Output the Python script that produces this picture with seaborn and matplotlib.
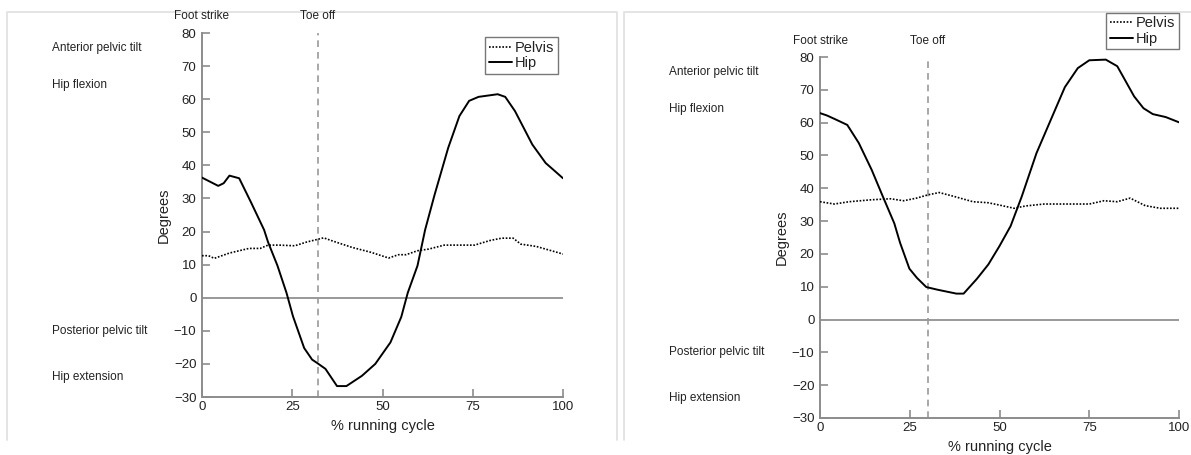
import numpy as np
import pandas as pd
import matplotlib
matplotlib.use("Agg")
import matplotlib.pyplot as plt
from matplotlib.lines import Line2D
from matplotlib.transforms import blended_transform_factory
import seaborn as sns

# ---------------- data ----------------
# Left panel
left_hip_x = [0, 4.5, 6, 7.6, 10.3, 13.5, 17.2, 18.3, 20.9, 23.4, 25.2, 28.3, 30.5, 32, 34.2,
              37.4, 40, 44.3, 48, 52.2, 55.2, 57, 59.7, 61.8, 64.4, 68.2, 71.3, 74, 76.6,
              81.9, 84, 86.7, 91.5, 95.2, 97.3, 100]
left_hip_y = [36.3, 33.8, 34.6, 36.9, 36.1, 29, 20.5, 16.8, 9.7, 1.5, -5.6, -15.2, -18.7, -19.8,
              -21.5, -26.7, -26.7, -23.6, -20, -13.5, -5.8, 1.5, 9.7, 20.5, 31, 45.3, 54.9,
              59.5, 60.7, 61.5, 60.7, 56.4, 46.3, 40.7, 38.7, 36.1]
left_pelvis_x = [0, 1.8, 3.4, 7.6, 13, 16.1, 18.3, 21.4, 25.7, 28.9, 33.7, 36.3, 41.6, 46.9,
                 51.7, 54.4, 56.5, 59.7, 62.8, 67.1, 71.3, 75.5, 79.8, 83, 86.2, 88.3, 92.6,
                 96.8, 100]
left_pelvis_y = [12.7, 12.7, 11.9, 13.5, 14.9, 14.9, 15.9, 15.9, 15.7, 16.8, 18.1, 17.1, 15.2,
                 13.7, 12, 13, 13, 14.2, 14.7, 15.9, 15.9, 15.9, 17.3, 18, 18, 16.2, 15.5,
                 14.2, 13.2]
left_toe_off = 32

# Right panel
right_hip_x = [0, 1.9, 4.5, 7.6, 10.8, 14.4, 17.5, 20.7, 22.3, 24.9, 27, 29.6, 32.7, 38, 40,
               43.7, 46.9, 50, 53.1, 56.2, 60.3, 64.5, 68.2, 71.8, 75, 79.6, 82.8, 84.9,
               87.5, 90.1, 92.7, 96.3, 100]
right_hip_y = [62.9, 62.2, 60.9, 59.3, 53.8, 45.6, 37.5, 29.3, 23.4, 15.5, 12.7, 9.9, 9.1, 7.9,
               7.9, 12.4, 16.8, 22.4, 28.5, 37.5, 50.7, 61.4, 70.8, 76.6, 79, 79.2, 77.2,
               73.1, 68, 64.4, 62.6, 61.7, 60.1]
right_pelvis_x = [0, 4, 8.1, 14.4, 19.6, 23.3, 26.9, 30.1, 33.2, 37.4, 42.6, 46.8, 49.9, 54.1,
                  57.2, 62.4, 75, 79.1, 82.8, 86.4, 90.6, 94.8, 100]
right_pelvis_y = [35.9, 35.2, 35.9, 36.5, 36.8, 36.2, 37, 38, 38.7, 37.5, 35.9, 35.6, 34.9,
                  33.9, 34.6, 35.2, 35.2, 36.2, 35.9, 37, 34.7, 33.9, 33.9]
right_toe_off = 30

x_ticks = [0, 25, 50, 75, 100]
y_ticks = [-30, -20, -10, 0, 10, 20, 30, 40, 50, 60, 70, 80]
side_labels = ["Anterior pelvic tilt", "Hip flexion", "Posterior pelvic tilt", "Hip extension"]
side_label_y = [75.5, 64.3, -10, -24]

# ---------------- style ----------------
sns.set_style("ticks")
plt.rcParams['font.family'] = ['Liberation Sans', 'DejaVu Sans']
plt.rcParams['axes.unicode_minus'] = True

W, H = 1191, 455
fig = plt.figure(figsize=(W / 100, H / 100), dpi=100)

def px_axes(x0, x1, ytop, ybot):
    return fig.add_axes([x0 / W, 1 - ybot / H, (x1 - x0) / W, (ybot - ytop) / H])

ax_l = px_axes(202, 563, 33, 397)
ax_r = px_axes(820, 1179, 57, 418)

spine_c = "#8c8c8c"
text_c = "#222222"

def draw_panel(ax, hx, hy, px_, py, toe, leg_anchor, label_x_fig):
    ax.axhline(0, xmin=0, xmax=1, color="#999999", lw=1.4, zorder=1)
    ax.plot([toe, toe], [-30, 80], color="#999999", lw=1.2, linestyle=(0, (4, 3)), zorder=1)
    sns.lineplot(x=px_, y=py, ax=ax, color="black", lw=1.2, linestyle=(0, (1, 1)),
                 label="Pelvis", sort=False, zorder=3)
    sns.lineplot(x=hx, y=hy, ax=ax, color="black", lw=1.4, label="Hip", sort=False, zorder=3)
    ax.set_xlim(0, 100)
    ax.set_ylim(-30, 80)
    ax.set_xticks(x_ticks)
    ax.set_yticks(y_ticks)
    for s in ["top", "right"]:
        ax.spines[s].set_visible(False)
    for s in ["left", "bottom"]:
        ax.spines[s].set_color(spine_c)
        ax.spines[s].set_linewidth(1.4)
    ax.tick_params(axis="both", direction="in", length=6, width=1.2, color=spine_c,
                   labelsize=9.5, labelcolor=text_c)
    ax.tick_params(axis="y", pad=4)
    ax.tick_params(axis="x", pad=3)
    ax.set_xlabel("% running cycle", fontsize=10.5, color=text_c, labelpad=4)
    ax.set_ylabel("Degrees", fontsize=10.5, color=text_c, labelpad=2)
    leg = ax.legend(loc="upper right", bbox_to_anchor=leg_anchor, frameon=True, fancybox=False,
                    fontsize=10.5, handlelength=1.6, handletextpad=0.2, borderpad=0.25,
                    labelspacing=0.1, borderaxespad=0)
    leg.get_frame().set_edgecolor("#555555")
    leg.get_frame().set_linewidth(1.0)
    leg.set_zorder(10)
    for t in leg.get_texts():
        t.set_color(text_c)
    ax.text(0, 85, "Foot strike", ha="center", va="center", fontsize=8.5, color=text_c,
            clip_on=False)
    ax.text(toe, 85, "Toe off", ha="center", va="center", fontsize=8.5, color=text_c,
            clip_on=False)
    tr = blended_transform_factory(fig.transFigure, ax.transData)
    for lab, yv in zip(side_labels, side_label_y):
        ax.text(label_x_fig, yv, lab, transform=tr, ha="left", va="center", fontsize=8.5,
                color=text_c)

draw_panel(ax_l, left_hip_x, left_hip_y, left_pelvis_x, left_pelvis_y, left_toe_off,
           (0.986, 0.989), 52 / W)
draw_panel(ax_r, right_hip_x, right_hip_y, right_pelvis_x, right_pelvis_y, right_toe_off,
           (1.0, 1.123), 669 / W)

# faint screenshot panel borders (behind everything)
border_c = "#e2e2e2"
def fline(xs, ys):
    fig.add_artist(Line2D([x / W for x in xs], [1 - y / H for y in ys], color=border_c,
                          lw=1.3, zorder=-1))

fline([7, 7, 617, 617], [440, 12, 12, 440])
fline([624, 624, 1191], [440, 12, 12])

fig.savefig("out.png", dpi=100)
